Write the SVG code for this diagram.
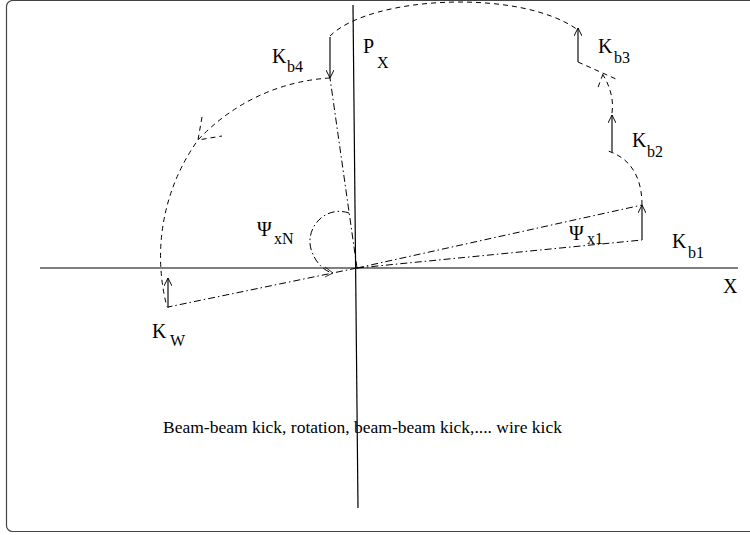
<svg xmlns="http://www.w3.org/2000/svg" width="750" height="535" viewBox="0 0 750 535">
<defs>
<style>
.ax{stroke:#000;stroke-width:1.2;fill:none}
.dash{stroke:#000;stroke-width:1;fill:none;stroke-dasharray:5,4}
.dd{stroke:#000;stroke-width:1;fill:none;stroke-dasharray:7,3,1.5,3}
.kick{stroke:#222;stroke-width:1.3;fill:none}
.lbl{font-family:"Liberation Serif","Times New Roman",serif;font-size:20px;fill:#000}
.sub{font-family:"Liberation Serif","Times New Roman",serif;font-size:16px;fill:#000}
.cap{font-family:"Liberation Serif","Times New Roman",serif;font-size:17.5px;fill:#000}
</style>
<marker id="ah" viewBox="0 0 10 10" refX="10" refY="5" markerWidth="8" markerHeight="8" markerUnits="userSpaceOnUse" orient="auto">
<path d="M0,0 L10,5 L0,10" fill="none" stroke="#000" stroke-width="1.2"/>
</marker>
</defs>
<rect x="6.5" y="0.5" width="780" height="531" rx="6" fill="#fff" stroke="#444" stroke-width="1.2"/>
<g id="connectors">
<line id="axis-x" class="ax" x1="40" y1="268" x2="738" y2="268"/>
<line id="axis-p" class="ax" x1="353" y1="5" x2="358" y2="508"/>
<line class="dd" x1="357" y1="268" x2="642" y2="205"/>
<line class="dd" x1="357" y1="268" x2="642" y2="240"/>
<line class="dd" x1="357" y1="268" x2="330" y2="78"/>
<line class="dd" x1="357" y1="268" x2="168" y2="307"/>
<path class="dd" d="M349,213 C325,205 305,228 311,249 C315,262 323,270 332,273"/>
<path d="M325,267 L333,273 L325,277" fill="none" stroke="#000" stroke-width="0.8"/>
<path class="dash" d="M642,205 C642,185 636,160 608,151"/>
<path class="dash" d="M612,113 C614,100 610,86 603,75"/>
<path class="dash" d="M578,62 L616,79"/>
<path class="dash" d="M603,74 L597,90"/>
<path class="dash" d="M330,36 C370,-4 520,-12 578,30"/>
<path class="dash" d="M330,78 A196 196 0 0 0 198,140 A200 200 0 0 0 167,307"/>
<path class="dash" d="M202,117 L198,140 L222,136"/>
</g>
<g id="kick-b1"><line class="kick" x1="642" y1="240" x2="642" y2="205" marker-end="url(#ah)"/><text class="lbl" x="672" y="248">K</text><text class="sub" x="688" y="258">b1</text></g>
<g id="kick-b2"><line class="kick" x1="612" y1="152" x2="612" y2="115" marker-end="url(#ah)"/><text class="lbl" x="632" y="147">K</text><text class="sub" x="647" y="157">b2</text></g>
<g id="kick-b3"><line class="kick" x1="578" y1="62" x2="578" y2="28" marker-end="url(#ah)"/><text class="lbl" x="598" y="53">K</text><text class="sub" x="614" y="63">b3</text></g>
<g id="kick-b4"><line class="kick" x1="330" y1="37" x2="330" y2="78" marker-end="url(#ah)"/><text class="lbl" x="272" y="63">K</text><text class="sub" x="287" y="72">b4</text></g>
<g id="kick-w"><line class="kick" x1="168" y1="308" x2="168" y2="278" marker-end="url(#ah)" stroke="#555"/><text class="lbl" x="152" y="338">K</text><text class="sub" x="170" y="346">W</text></g>
<g id="label-px"><text class="lbl" x="363" y="53">P</text><text class="sub" x="377" y="68">X</text></g>
<g id="label-x"><text class="lbl" x="723" y="293" font-size="22">X</text></g>
<g id="label-psixn"><text class="lbl" x="257" y="236" font-size="22">Ψ</text><text class="sub" x="274" y="244">xN</text></g>
<g id="label-psix1"><text class="lbl" x="569" y="240" font-size="22">Ψ</text><text class="sub" x="587" y="244">x1</text></g>
<g id="caption"><text class="cap" x="163" y="433">Beam-beam kick, rotation, beam-beam kick,.... wire kick</text></g>
</svg>
